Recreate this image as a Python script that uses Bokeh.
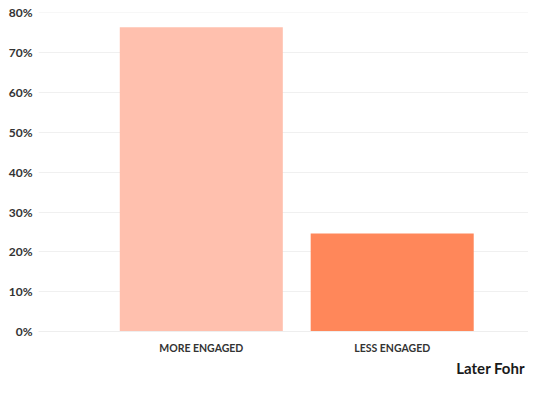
from bokeh.plotting import figure
from bokeh.models import ColumnDataSource, Range1d, FixedTicker, NumeralTickFormatter, Title
from bokeh.embed import file_html
from bokeh.resources import INLINE

categories = ["MORE ENGAGED", "LESS ENGAGED"]
values = [0.764, 0.246]
colors = ["#FFC0AE", "#FF875A"]
y_ticks = [0.0, 0.1, 0.2, 0.3, 0.4, 0.5, 0.6, 0.7, 0.8]
brand = "Later  Fohr"

xs = [i + 0.5 for i in range(len(categories))]
src = ColumnDataSource(dict(x=xs, top=values, color=colors))

p = figure(width=528, height=378, output_backend="svg", toolbar_location=None,
           x_range=Range1d(-0.3528, 2.214), y_range=Range1d(0, 0.801),
           min_border_left=38, min_border_right=0, min_border_top=12, min_border_bottom=47)
p.outline_line_color = None
p.background_fill_color = "white"
p.border_fill_color = "white"

p.vbar(x="x", top="top", width=0.854, bottom=0, color="color", line_color=None, source=src)

p.yaxis.ticker = FixedTicker(ticks=y_ticks)
p.yaxis.formatter = NumeralTickFormatter(format="0%")
p.yaxis.axis_line_color = None
p.yaxis.major_tick_line_color = None
p.yaxis.minor_tick_line_color = None
p.yaxis.major_tick_out = 0
p.yaxis.minor_tick_out = 0
p.yaxis.major_label_standoff = 6
p.yaxis.major_label_text_font = "Lato"
p.yaxis.major_label_text_font_style = "bold"
p.yaxis.major_label_text_font_size = "12px"
p.yaxis.major_label_text_color = "#333333"

p.xaxis.ticker = FixedTicker(ticks=xs)
p.xaxis.major_label_overrides = {x: c for x, c in zip(xs, categories)}
p.xaxis.axis_line_color = "#eeeeee"
p.xaxis.major_tick_line_color = None
p.xaxis.minor_tick_line_color = None
p.xaxis.major_tick_out = 0
p.xaxis.minor_tick_out = 0
p.xaxis.major_label_standoff = 10
p.xaxis.major_label_text_font = "Lato"
p.xaxis.major_label_text_font_style = "bold"
p.xaxis.major_label_text_font_size = "10.5px"
p.xaxis.major_label_text_color = "#333333"

p.xgrid.grid_line_color = None
p.ygrid.grid_line_color = "#f0f0f0"
p.ygrid.grid_line_width = 1

p.add_layout(Title(text=brand, align="right", text_font="Lato", text_font_style="bold",
                   text_font_size="15px", text_color="#1a1a1a", standoff=0, offset=0), "below")

open("out.html", "w").write(file_html(p, INLINE))
